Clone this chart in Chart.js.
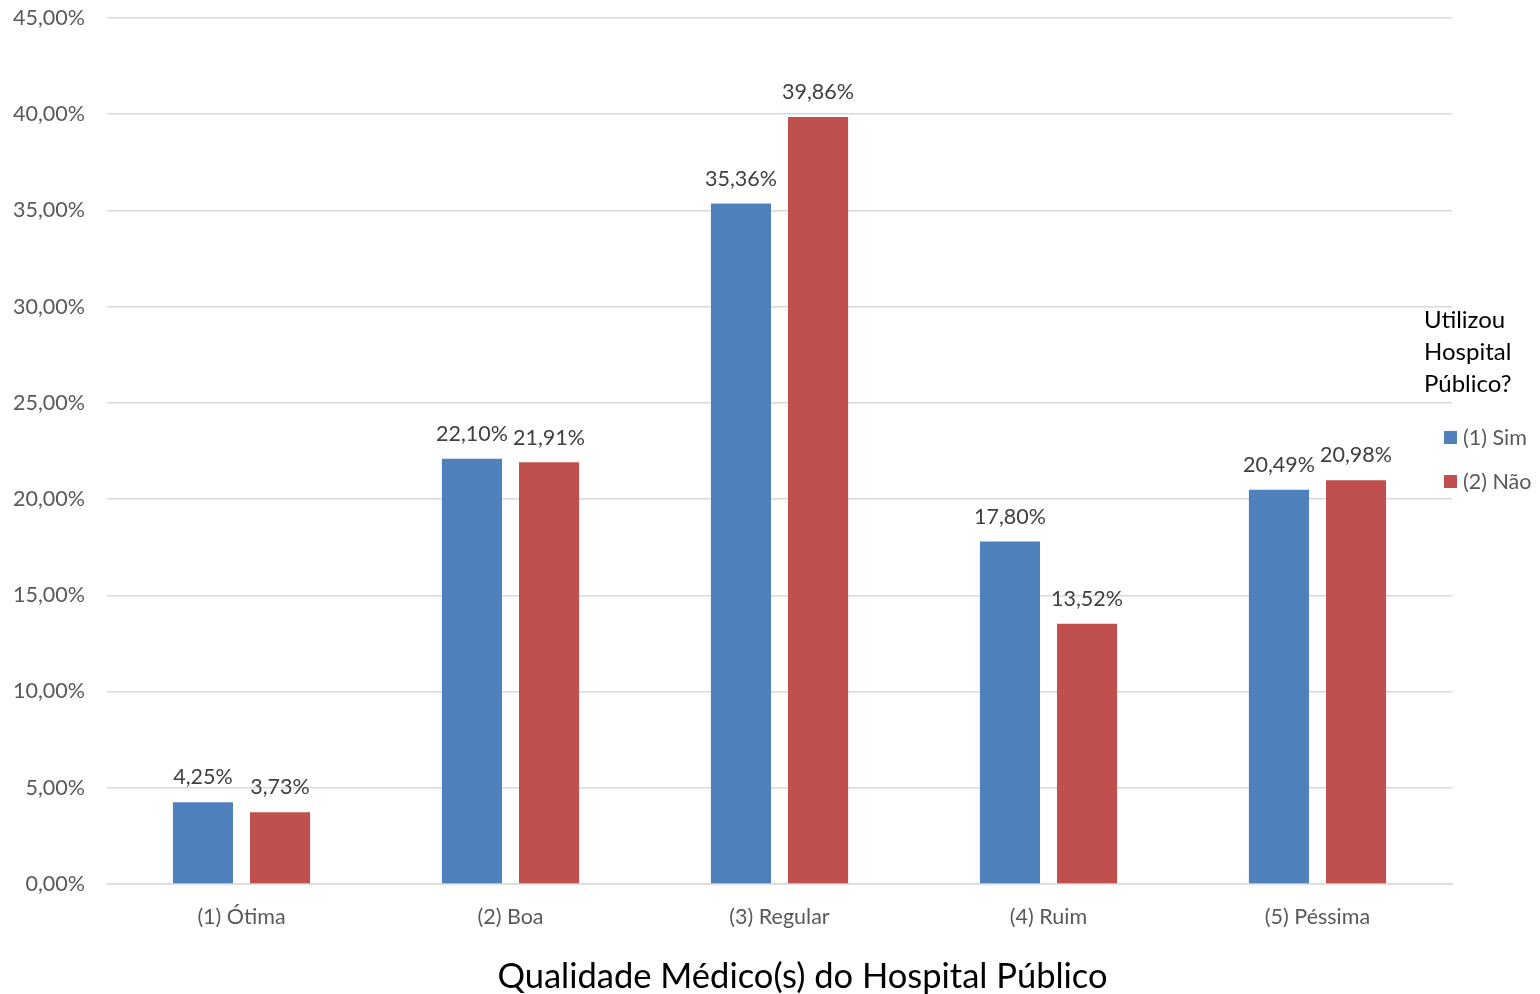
<!DOCTYPE html>
<html>
<head>
<meta charset="utf-8">
<script src="https://cdn.jsdelivr.net/npm/chart.js@4"></script>
<style>
  body { margin: 0; background: #fff; }
  #wrap { position: relative; width: 1540px; height: 994px; }
  #legend { position: absolute; left: 1424px; top: 303px; font-family: Lato, "Open Sans", sans-serif; }
  #legend .title { font-size: 24px; line-height: 32px; color: #000; }
  #legend .item { font-size: 21.5px; color: #595959; margin-top: 25px; display: flex; align-items: center; }
  #legend .item + .item { margin-top: 18px; }
  #legend .box { width: 13px; height: 13px; margin: 0 6px 0 20px; }
  #xtitle { position: absolute; left: 65px; width: 1475px; top: 955px; text-align: center;
            font-family: Lato, "Open Sans", sans-serif; font-size: 34.5px; line-height: 40px; color: #000; }
</style>
</head>
<body>
<div id="wrap">
  <canvas id="grafico"></canvas>
  <div id="legend"></div>
  <div id="xtitle"></div>
</div>
<script>
// categorias e valores (%)
const categorias = ['(1) Ótima', '(2) Boa', '(3) Regular', '(4) Ruim', '(5) Péssima'];
const serieSim = [4.25, 22.10, 35.36, 17.80, 20.49];
const serieNao = [3.73, 21.91, 39.86, 13.52, 20.98];
const nomesSeries = ['(1) Sim', '(2) Não'];
const coresSeries = ['#4F81BD', '#C0504D'];
const tituloLegenda = ['Utilizou', 'Hospital', 'Público?'];
const tituloEixoX = 'Qualidade Médico(s) do Hospital Público';

const FONTE = 'Lato, "Open Sans", sans-serif';
const fmt = v => v.toFixed(2).replace('.', ',') + '%';

// rótulos em cima das barras
const rotulos = {
    id: 'rotulos',
    afterDatasetsDraw(chart) {
        const ctx = chart.ctx;
        ctx.save();
        ctx.font = '21.5px ' + FONTE;
        ctx.fillStyle = '#404040';
        ctx.textAlign = 'center';
        ctx.textBaseline = 'bottom';
        chart.data.datasets.forEach((ds, i) => {
            chart.getDatasetMeta(i).data.forEach((bar, j) => {
                ctx.fillText(fmt(ds.data[j]), bar.x, bar.y - 14);
            });
        });
        ctx.restore();
    }
};

new Chart(document.getElementById('grafico'), {
    type: 'bar',
    data: {
        labels: categorias,
        datasets: [
            { label: nomesSeries[0], data: serieSim, backgroundColor: coresSeries[0] },
            { label: nomesSeries[1], data: serieNao, backgroundColor: coresSeries[1] }
        ]
    },
    options: {
        responsive: true,
        maintainAspectRatio: false,
        animation: false,
        categoryPercentage: 0.573,
        barPercentage: 0.78,
        layout: { padding: { top: 18, right: 88, left: 0, bottom: 0 } },
        plugins: { legend: { display: false }, tooltip: { enabled: false } },
        scales: {
            x: {
                grid: { display: false },
                border: { color: '#d9d9d9', width: 1.5 },
                ticks: { color: '#595959', font: { family: FONTE, size: 21.5 }, padding: 12 },
                afterFit: s => { s.height = 110; }
            },
            y: {
                min: 0, max: 45,
                grid: { color: '#d9d9d9', lineWidth: 1.5, drawTicks: false },
                border: { display: false },
                ticks: { stepSize: 5, color: '#595959', font: { family: FONTE, size: 21.5 }, padding: 22, callback: v => fmt(v) },
                afterFit: s => { s.width = 107; s.paddingTop = 0; s.paddingBottom = 0; }
            }
        }
    },
    plugins: [rotulos]
});

// legenda à direita e título do eixo
const leg = document.getElementById('legend');
leg.innerHTML = '<div class="title">' + tituloLegenda.join('<br>') + '</div>' +
    nomesSeries.map((n, i) => `<div class="item"><span class="box" style="background:${coresSeries[i]}"></span>${n}</div>`).join('');
document.getElementById('xtitle').textContent = tituloEixoX;
</script>
</body>
</html>
